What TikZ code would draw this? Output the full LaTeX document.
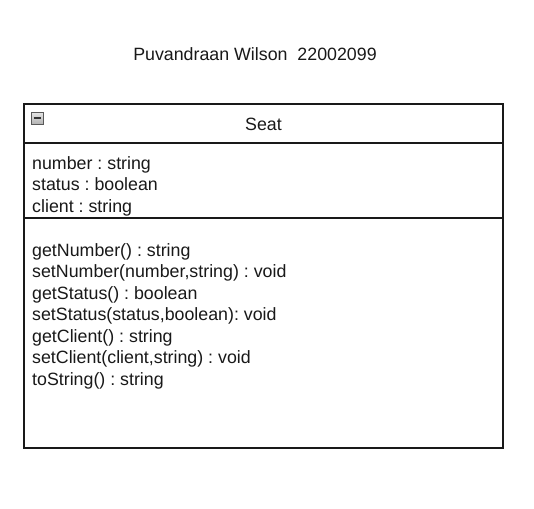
\documentclass[tikz,border=0pt]{standalone}
\usepackage{fontspec}
\setmainfont{Liberation Sans}
\frenchspacing
\begin{document}
\begin{tikzpicture}[x=1pt,y=-1pt,
  txt/.style={anchor=base west,inner sep=0pt,font=\fontsize{17.8}{21.5}\selectfont,text=black!90},
  boxline/.style={line width=1.3pt,draw=black!90}]
\useasboundingbox[fill=white] (0,0) rectangle (534,508);
\node[anchor=base,inner sep=0pt,font=\fontsize{17.8}{21.5}\selectfont,text=black!90] (title) at (255,61) {Puvandraan Wilson\ \ 22002099};
\draw[boxline] (24,104) rectangle (503,448);
\coordinate (hl) at (24,143); \coordinate (hr) at (503,143);
\coordinate (sl) at (24,218); \coordinate (sr) at (503,218);
\draw[boxline] (hl) -- (hr);
\draw[boxline] (sl) -- (sr);
% collapse icon
\shade[top color=gray!20,bottom color=gray!60,draw=gray!70!black,line width=0.6pt] (31,112) rectangle (43,124);
\draw[line width=1.2pt,black!80] (33.5,118) -- (40.5,118);
\node[anchor=base,inner sep=0pt,font=\fontsize{17.8}{21.5}\selectfont,text=black!90] (name) at (263.5,130.5) {Seat};
\node[txt] (a1) at (32,169) {number : string};
\node[txt] (a2) at (32,190.5) {status : boolean};
\node[txt] (a3) at (32,212) {client : string};
\node[txt] (m1) at (32,256) {getNumber() : string};
\node[txt] (m2) at (32,277.5) {setNumber(number,string) : void};
\node[txt] (m3) at (32,299) {getStatus() : boolean};
\node[txt] (m4) at (32,320.5) {setStatus(status,boolean): void};
\node[txt] (m5) at (32,342) {getClient() : string};
\node[txt] (m6) at (32,363.5) {setClient(client,string) : void};
\node[txt] (m7) at (32,385) {toString() : string};
\end{tikzpicture}
\end{document}
